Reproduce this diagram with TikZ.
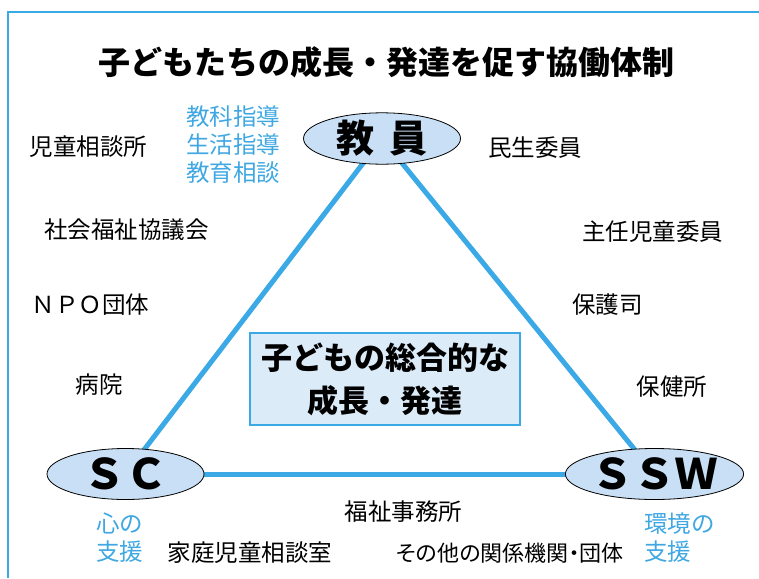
\documentclass[tikz,border=0pt]{standalone}
\usepackage{fontspec}
\usetikzlibrary{shapes.geometric,backgrounds}
\setmainfont{Noto Sans CJK JP}
\newfontfamily\jpp[RawFeature=+palt]{Noto Sans CJK JP}
\definecolor{lineblue}{HTML}{3AA9E6}
\definecolor{txtblue}{HTML}{3FA7E2}
\definecolor{ellfill}{HTML}{C8DFF5}
\definecolor{boxfill}{HTML}{DCEBF8}
\begin{document}
\begin{tikzpicture}[x=1pt,y=-1pt,
  lbl/.style={inner sep=0pt, font=\fontsize{23.5}{28}\selectfont},
  bluelbl/.style={lbl, text=txtblue, align=left, anchor=west},
  member/.style={ellipse, draw=black, line width=0.8pt, fill=ellfill, minimum width=157pt, minimum height=51pt, inner sep=0pt},
  link/.style={draw=lineblue, line width=5pt}]
\useasboundingbox (0,0) rectangle (759,578);
\draw[lineblue, line width=2pt] (759,12) -- (8,12) -- (8,578);
% title
\node[inner sep=0pt, font=\bfseries\fontsize{32}{32}\selectfont] (title) at (386.5,62) {子どもたちの成長・発達を促す協働体制};
% members
\node[member, font=\bfseries\fontsize{38}{38}\selectfont] (t) at (382,138.5) {教\hspace{0.4em}員};
\node[member, font=\bfseries\fontsize{42}{42}\selectfont] (sc) at (125.5,474) {ＳＣ};
\node[member, font=\bfseries\fontsize{42}{42}\selectfont] (ssw) at (654.5,474) {ＳＳＷ};
\begin{scope}[on background layer]
\draw[link] (t.center) -- (sc.center);
\draw[link] (t.center) -- (ssw.center);
\draw[link] (sc.center) -- (ssw.center);
\end{scope}
% core box
\node[draw=lineblue, line width=1.2pt, fill=boxfill, minimum width=270pt, minimum height=92pt, inner sep=0pt, align=center, font=\bfseries\fontsize{31}{43}\selectfont] (core) at (385,379) {子どもの総合的な\\成長・発達};
% blue labels
\node[bluelbl] (teach) at (186,145) {教科指導\\生活指導\\教育相談};
\node[bluelbl] (kokoro) at (96,537.5) {心の\\支援};
\node[bluelbl] (kankyo) at (644,537.5) {環境の\\支援};
% black labels
\node[lbl] (l1) at (88.5,147) {児童相談所};
\node[lbl] (l2) at (126.5,230) {社会福祉協議会};
\node[lbl] (l3) at (90.5,305) {ＮＰＯ団体};
\node[lbl] (l4) at (99,385) {病院};
\node[lbl] (r1) at (535,148) {民生委員};
\node[lbl] (r2) at (652.5,232) {主任児童委員};
\node[lbl] (r3) at (607.5,305) {保護司};
\node[lbl] (r4) at (672,387) {保健所};
\node[lbl] (b1) at (403.5,512) {福祉事務所};
\node[lbl] (b2) at (250,553) {家庭児童相談室};
\node[lbl, font=\jpp\fontsize{22}{28}\selectfont] (b3) at (510,553) {その他の関係機関・団体};
\end{tikzpicture}
\end{document}
